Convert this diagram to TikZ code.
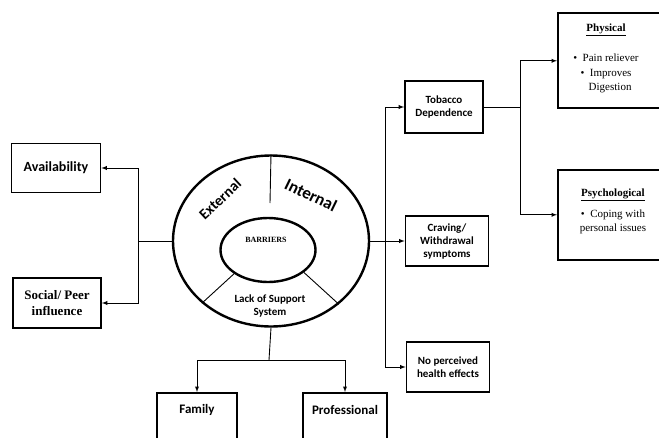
\documentclass[tikz,border=0pt]{standalone}
\usepackage{fontspec}
\setmainfont{Liberation Serif}
\newfontfamily\calib{Carlito}
\usetikzlibrary{arrows,shapes,positioning}

\tikzset{
  barbox/.style={draw, line width=1.6pt, minimum width=80pt, minimum height=50pt, align=center, inner sep=2pt},
  link/.style={line width=0.9pt},
  sanstext/.style={font=\calib\bfseries\fontsize{11}{13}\selectfont, align=center},
  seriftext/.style={font=\fontsize{11}{14}\selectfont, align=center},
  >=latex
}

\begin{document}
\begin{tikzpicture}[x=1pt,y=-1pt]
\useasboundingbox (0,0) rectangle (659,437);

% barriers wheel
\node[draw, ellipse, line width=2.4pt, minimum width=196pt, minimum height=171pt] (outer) at (271,241) {};
\node[draw, ellipse, line width=2.4pt, minimum width=95pt, minimum height=64pt] (inner) at (268,250) {};
\node[font=\bfseries\fontsize{8}{9}\selectfont, inner sep=0pt] (barTxt) at (266,240) {BARRIERS};
\coordinate (topcut) at (270,203);
\draw[link] (outer.north) -- (topcut);
\draw[link] (inner.215) -- (outer.222);
\draw[link] (inner.328) -- (outer.317);
\node[sanstext, inner sep=0pt, font=\calib\bfseries\fontsize{15}{17}\selectfont, rotate=43] (ext) at (220,199) {External};
\node[sanstext, inner sep=0pt, font=\calib\bfseries\fontsize{17}{19}\selectfont, rotate=-26] (int) at (311,195) {Internal};
\node[sanstext] (lack) at (270,306) {Lack of Support\\System};

% external side
\node[barbox, minimum width=89pt, minimum height=49pt, font=\calib\bfseries\fontsize{14}{16}\selectfont] (avail) at (56,168) {Availability};
\node[barbox, minimum width=88pt, minimum height=50pt, font=\bfseries\fontsize{13}{16}\selectfont] (social) at (57,303) {Social/ Peer\\influence};
\coordinate (lj) at (138,241);
\draw[link] (outer.west) -- (lj);
\draw[link,->] (lj) |- (avail.east);
\draw[link,->] (lj) |- (social.east);

% internal side
\node[barbox, minimum width=78pt, minimum height=52pt, sanstext] (tob) at (444,107) {Tobacco\\Dependence};
\node[barbox, minimum width=83pt, sanstext] (crav) at (447,241) {Craving/\\Withdrawal\\symptoms};
\node[barbox, minimum width=83pt, sanstext] (noperc) at (448,367) {No perceived\\health effects};
\coordinate (rj) at (385,241);
\draw[link,->] (outer.east) -- (crav.west);
\draw[link] (rj) -- (rj |- tob.west);
\draw[link] (rj) -- (rj |- noperc.west);
\draw[link,->] (rj |- tob.west) -- (tob.west);
\draw[link,->] (rj |- noperc.west) -- (noperc.west);

% effects of dependence
\node[barbox, anchor=north west, minimum width=125pt, minimum height=95pt] (phys) at (557,12) {};
\node[seriftext] (physTxt) at (606,58) {\textbf{\underline{Physical}}\\[16pt]\textbullet\ \ Pain reliever\\[1pt]\textbullet\ \ Improves\\\ \ \ Digestion};
\node[barbox, anchor=north west, minimum width=125pt, minimum height=90pt] (psych) at (557,169) {};
\node[seriftext] (psychTxt) at (613,211) {\textbf{\underline{Psychological}}\\[7pt]\textbullet\ \ Coping with\\personal issues};
\coordinate (tj) at (520,107);
\draw[link] (tob.east) -- (tj);
\draw[link,->] (tj) |- ([yshift=-0.5pt]phys.west);
\draw[link,->] (tj) |- (psych.west);

% support system
\node[barbox, anchor=north, minimum height=60pt] (family) at (197,392) {};
\node[sanstext, font=\calib\bfseries\fontsize{13}{15}\selectfont] (familyTxt) at (197,410) {Family};
\node[barbox, anchor=north, minimum width=84pt, minimum height=60pt] (prof) at (345,392) {};
\node[sanstext, font=\calib\bfseries\fontsize{13}{15}\selectfont] (profTxt) at (345,410) {Professional};
\coordinate (bj) at (269,360);
\draw[link] (outer.south) -- (bj);
\draw[link,->] (bj) -| (family.north);
\draw[link,->] (bj) -| (prof.north);
\end{tikzpicture}
\end{document}
